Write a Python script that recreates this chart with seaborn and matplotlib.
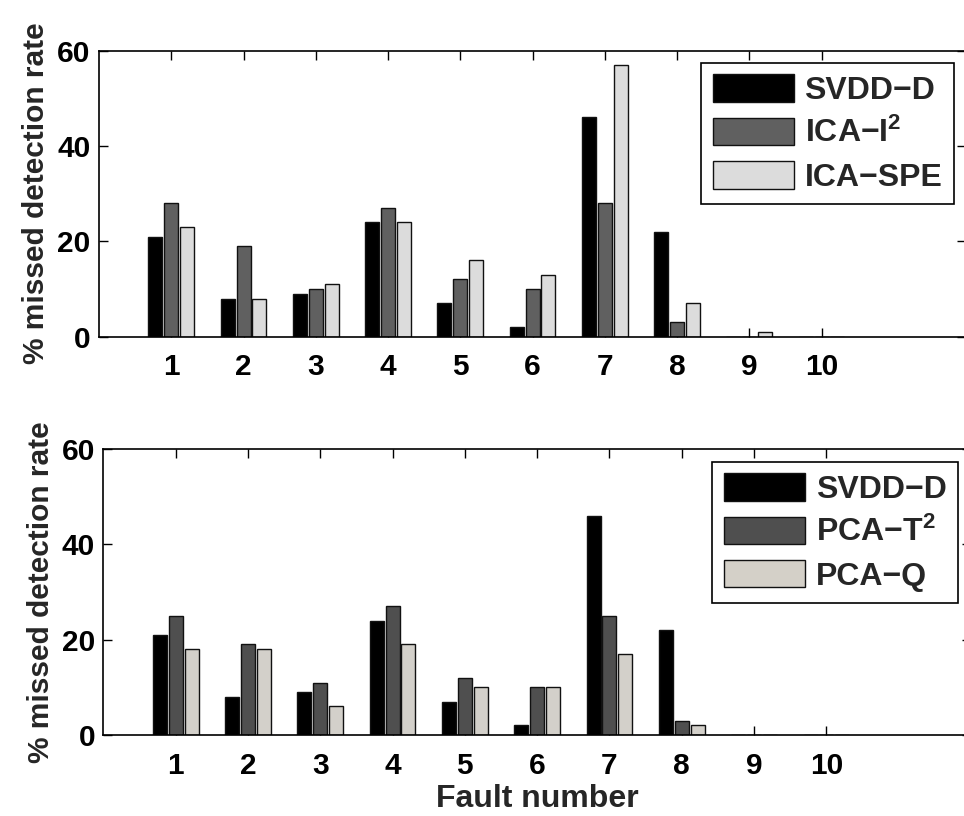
import numpy as np
import pandas as pd
import seaborn as sns
import matplotlib
matplotlib.use("Agg")
import matplotlib.pyplot as plt
from matplotlib.patches import Patch

# Fault numbers on the x axis
faults = [1, 2, 3, 4, 5, 6, 7, 8, 9, 10]

# Missed detection rates (%) per fault
svdd_d = [21, 8, 9, 24, 7, 2, 46, 22, 0, 0]
ica_i2 = [28, 19, 10, 27, 12, 10, 28, 3, 0, 0]
ica_spe = [23, 8, 11, 24, 16, 13, 57, 7, 1, 0]
pca_t2 = [25, 19, 11, 27, 12, 10, 25, 3, 0, 0]
pca_q = [18, 18, 6, 19, 10, 10, 17, 2, 0, 0]

top_methods = ["SVDD\u2212D", "ICA\u2212I$^2$", "ICA\u2212SPE"]
bottom_methods = ["SVDD\u2212D", "PCA\u2212T$^2$", "PCA\u2212Q"]
top_colors = ["#000000", "#606060", "#dcdcdc"]
bottom_colors = ["#000000", "#4f4f4f", "#d4d0c8"]

y_ticks = [0, 20, 40, 60]

sns.set_theme(style="ticks")
plt.rcParams["font.family"] = ["Liberation Sans", "DejaVu Sans"]
plt.rcParams["font.weight"] = "bold"
plt.rcParams["mathtext.fontset"] = "custom"
plt.rcParams["mathtext.rm"] = "Liberation Sans:bold"
plt.rcParams["mathtext.bf"] = "Liberation Sans:bold"
plt.rcParams["mathtext.it"] = "Liberation Sans:bold"
plt.rcParams["mathtext.default"] = "rm"
plt.rcParams.update({
    "xtick.direction": "in", "ytick.direction": "in",
    "xtick.top": True, "xtick.bottom": True,
    "ytick.left": True, "ytick.right": True,
    "xtick.major.size": 6.5, "ytick.major.size": 6.5,
    "xtick.major.width": 1.0, "ytick.major.width": 1.0,
    "xtick.color": "black", "ytick.color": "black",
})

TICK_FS = 21.5
LABEL_FS = 21.5
LEGEND_FS = 23


def long_table(methods, series):
    rows = []
    for m, vals in zip(methods, series):
        for f, v in zip(faults, vals):
            rows.append({"fault": f, "method": m, "rate": v})
    return pd.DataFrame(rows)


def draw_panel(ax, methods, series, colors, legend_anchor):
    df = long_table(methods, series)
    sns.barplot(
        data=df, x="fault", y="rate", hue="method",
        order=faults, hue_order=methods,
        palette=dict(zip(methods, colors)),
        width=0.66, gap=0.12, errorbar=None,
        edgecolor="#111111", linewidth=1.0,
        legend=False, ax=ax,
    )
    ax.set_xlim(-1, 11)
    ax.set_ylim(0, 60)
    ax.set_yticks(y_ticks)
    ax.set_yticklabels([str(t) for t in y_ticks], fontsize=TICK_FS, fontweight="bold")
    ax.set_xticks(range(len(faults)))
    ax.set_xticklabels([str(f) for f in faults], fontsize=TICK_FS, fontweight="bold")
    ax.set_xlabel("")
    ax.set_ylabel("% missed detection rate", fontsize=LABEL_FS, fontweight="bold",
                  labelpad=5)
    for s in ax.spines.values():
        s.set_visible(True)
        s.set_color("black")
        s.set_linewidth(1.2)
    ax.xaxis.set_ticks_position("both")
    ax.yaxis.set_ticks_position("both")
    ax.tick_params(axis="both", which="major", direction="in", length=6.5,
                   width=1.0, color="black", top=True, right=True,
                   bottom=True, left=True, labeltop=False, labelright=False)
    ax.tick_params(axis="x", pad=12)
    ax.tick_params(axis="y", pad=6)
    handles = [Patch(facecolor=c, edgecolor="#111111", linewidth=1.0) for c in colors]
    leg = ax.legend(handles, methods, loc="upper right", bbox_to_anchor=legend_anchor,
                    borderaxespad=0, frameon=True, fancybox=False,
                    framealpha=1, edgecolor="black", handlelength=2.55,
                    handleheight=0.95, handletextpad=0.33, labelspacing=0.36,
                    borderpad=0.36, prop={"weight": "bold", "size": LEGEND_FS})
    leg.get_frame().set_linewidth(1.2)


fig = plt.figure(figsize=(9.64, 8.16), dpi=100)
ax1 = fig.add_axes([0.1027, 0.5874, 0.8994, 0.3505])
ax2 = fig.add_axes([0.1072, 0.0993, 0.9001, 0.3505])

draw_panel(ax1, top_methods, [svdd_d, ica_i2, ica_spe], top_colors, (0.986, 0.957))
draw_panel(ax2, bottom_methods, [svdd_d, pca_t2, pca_q], bottom_colors, (0.985, 0.955))

ax2.set_xlabel("Fault number", fontsize=LEGEND_FS, fontweight="bold", labelpad=3)

fig.savefig("out.png", dpi=100)
